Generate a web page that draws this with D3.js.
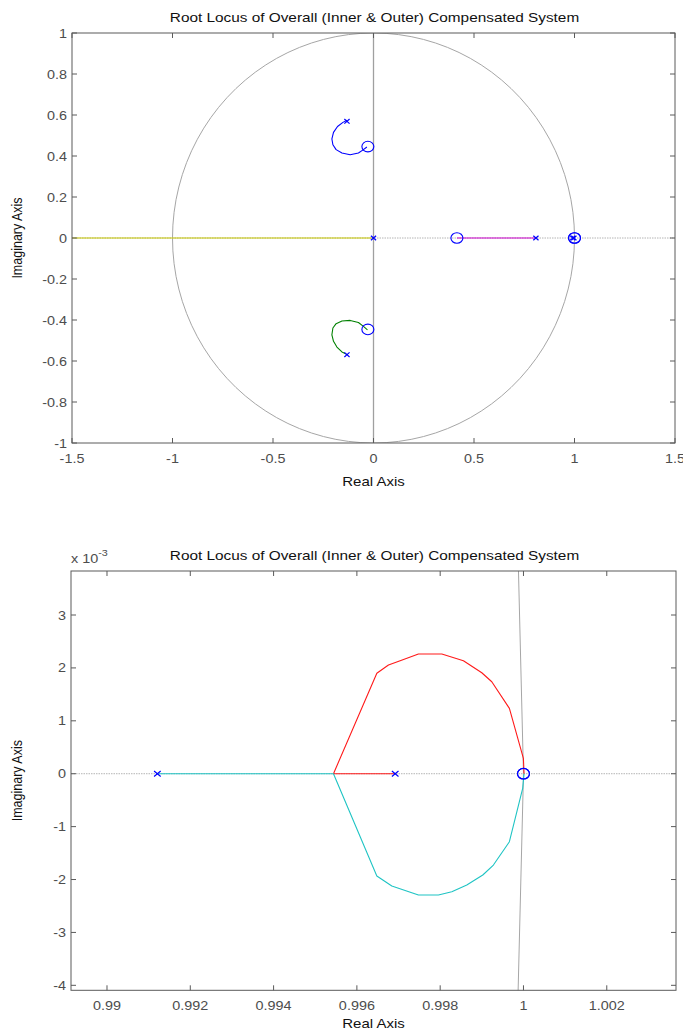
<!DOCTYPE html>
<html><head><meta charset="utf-8">
<script src="https://cdn.jsdelivr.net/npm/d3@7"></script>
<style>
body{margin:0;background:#fff}
svg{display:block}
text{font-family:"Liberation Sans",Arial,Helvetica,sans-serif}
</style>
</head><body>
<svg id="c" width="683" height="1034"></svg>
<script>
// ---------------- DATA ----------------
const chartTitle = "Root Locus of Overall (Inner & Outer) Compensated System";
const xAxisLabel = "Real Axis";
const yAxisLabel = "Imaginary Axis";

// open-loop poles (real, imag)
const poles = [[0, 0], [0.808, 0], [-0.132, 0.569], [-0.132, -0.569], [0.99121, 0], [0.99692, 0]];
// open-loop zeros (real, imag)
const zeros = [[0.415, 0], [-0.028, 0.446], [-0.028, -0.446], [1.0, 0], [1.0, 0]];

// locus branches (real, imag)
const locusYellow = [[0, 0], [-5, 0]];
const locusMagenta = [[0.808, 0], [0.415, 0]];
const locusBlue = [[-0.132, 0.574], [-0.152, 0.564], [-0.179, 0.544], [-0.199, 0.515], [-0.207, 0.483],
  [-0.202, 0.455], [-0.186, 0.431], [-0.157, 0.415], [-0.116, 0.406], [-0.075, 0.415], [-0.050, 0.431], [-0.033, 0.444]];
const locusGreen = [[-0.136, -0.566], [-0.157, -0.556], [-0.182, -0.532], [-0.199, -0.504], [-0.207, -0.472],
  [-0.202, -0.439], [-0.186, -0.418], [-0.157, -0.405], [-0.116, -0.402], [-0.075, -0.412], [-0.050, -0.431], [-0.030, -0.448]];
const locusRed = [[0.99692, 0], [0.995438, 0], [0.996479, 1.898e-3], [0.996758, 2.055e-3], [0.997039, 2.136e-3],
  [0.997478, 2.263e-3], [0.998039, 2.263e-3], [0.998558, 2.136e-3], [0.998999, 1.909e-3], [0.999239, 1.739e-3],
  [0.999662, 1.236e-3], [0.999998, 0.291e-3], [1.000014, 0]];
const locusCyan = [[0.99121, 0], [0.995438, 0], [0.996479, -1.934e-3], [0.996839, -2.123e-3], [0.997478, -2.293e-3],
  [0.997958, -2.293e-3], [0.998279, -2.230e-3], [0.998639, -2.104e-3], [0.999023, -1.914e-3], [0.999278, -1.726e-3],
  [0.999662, -1.285e-3], [0.999981, -0.276e-3], [1.000014, 0]];

// tick labels
const topXTicks = [-1.5, -1, -0.5, 0, 0.5, 1, 1.5];
const topYTicks = [1, 0.8, 0.6, 0.4, 0.2, 0, -0.2, -0.4, -0.6, -0.8, -1];
const botXTicks = [0.99, 0.992, 0.994, 0.996, 0.998, 1, 1.002];
const botYTicks = [3, 2, 1, 0, -1, -2, -3, -4];   // x 10^-3
const botYExponent = "-3";

// ---------------- DRAWING ----------------
const svg = d3.select("#c");
const SX = 1.2; // horizontal stretch of the reference rendering

function label(g, x, y, s, o = {}) {
  const t = g.append("text")
    .attr("transform", `translate(${x},${y}) scale(${SX},1)` + (o.rot ? ` rotate(${o.rot})` : ""))
    .attr("text-anchor", o.anchor || "middle")
    .attr("font-size", o.size || 12)
    .attr("fill", o.fill || "#4d4d4d")
    .text(s);
  return t;
}

const colors = { yellow: "#c8c800", magenta: "#cc00cc", blue: "#0000ff", green: "#008000", red: "#ff1a1a", cyan: "#1fc4c4" };

function panel(cfg, id) {
  const g = svg.append("g");
  const x = d3.scaleLinear().domain(cfg.xd).range([cfg.x0, cfg.x1]);
  const y = d3.scaleLinear().domain(cfg.yd).range([cfg.y1, cfg.y0]);
  const clipId = "clip" + id;
  g.append("clipPath").attr("id", clipId).append("rect")
    .attr("x", cfg.x0).attr("y", cfg.y0).attr("width", cfg.x1 - cfg.x0).attr("height", cfg.y1 - cfg.y0);
  const plot = g.append("g").attr("clip-path", `url(#${clipId})`);
  const line = d3.line().x(d => x(d[0])).y(d => y(d[1]));

  // unit circle (reference)
  const circ = d3.range(101).map(i => [Math.cos(2 * Math.PI * i / 100), Math.sin(2 * Math.PI * i / 100)]);
  plot.append("path").attr("d", line(circ)).attr("fill", "none").attr("stroke", "#a6a6a6").attr("stroke-width", 1);
  // imaginary axis
  plot.append("path").attr("d", line([[0, -1], [0, 1]])).attr("fill", "none").attr("stroke", "#a0a0a0").attr("stroke-width", 1.3);
  // real axis (dotted)
  plot.append("path").attr("d", line([[cfg.xd[0], 0], [cfg.xd[1], 0]])).attr("fill", "none")
    .attr("stroke", "#b4b4b4").attr("stroke-width", 1).attr("stroke-dasharray", "1.5,1");

  const branches = [[locusYellow, colors.yellow], [locusMagenta, colors.magenta], [locusBlue, colors.blue],
    [locusGreen, colors.green], [locusRed, colors.red], [locusCyan, colors.cyan]];
  branches.forEach(([d, c]) => plot.append("path").attr("d", line(d)).attr("fill", "none")
    .attr("stroke", c).attr("stroke-width", 1.1).attr("stroke-linejoin", "round"));

  // zeros
  plot.selectAll(null).data(zeros).join("ellipse")
    .attr("cx", d => x(d[0])).attr("cy", d => y(d[1])).attr("rx", 6).attr("ry", 5.3)
    .attr("fill", "none").attr("stroke", colors.blue).attr("stroke-width", 1.1);
  // poles
  const ph = cfg.px, pv = cfg.py;
  plot.selectAll(null).data(poles).join("path")
    .attr("d", d => { const cx = x(d[0]), cy = y(d[1]);
      return `M${cx - ph},${cy - pv}L${cx + ph},${cy + pv}M${cx - ph},${cy + pv}L${cx + ph},${cy - pv}`; })
    .attr("fill", "none").attr("stroke", colors.blue).attr("stroke-width", 1.2);

  // frame
  g.append("rect").attr("x", cfg.x0).attr("y", cfg.y0).attr("width", cfg.x1 - cfg.x0).attr("height", cfg.y1 - cfg.y0)
    .attr("fill", "none").attr("stroke", "#5a5a5a").attr("stroke-width", 1);
  // ticks (inward on all sides)
  const tl = 5;
  cfg.xt.forEach(v => {
    const px = x(v);
    g.append("path").attr("d", `M${px},${cfg.y1}V${cfg.y1 - tl}M${px},${cfg.y0}V${cfg.y0 + tl}`).attr("stroke", "#5a5a5a");
    label(g, px, cfg.y1 + 20, cfg.xfmt(v));
  });
  cfg.yt.forEach(v => {
    const py = y(v);
    g.append("path").attr("d", `M${cfg.x0},${py}H${cfg.x0 + tl}M${cfg.x1},${py}H${cfg.x1 - tl}`).attr("stroke", "#5a5a5a");
    label(g, cfg.x0 - 5, py + 4.5, cfg.yfmt(v), { anchor: "end" });
  });
  // title and axis labels
  label(g, (cfg.x0 + cfg.x1) / 2 + 1, cfg.y0 - 11, chartTitle, { size: 12.8, fill: "#111" });
  label(g, (cfg.x0 + cfg.x1) / 2, cfg.xlabY, xAxisLabel, { size: 12.5, fill: "#111" });
  g.append("text")
    .attr("transform", `translate(22,${(cfg.y0 + cfg.y1) / 2}) scale(${SX},1) rotate(-90)`)
    .attr("text-anchor", "middle").attr("font-size", 12.5).attr("fill", "#111").text(yAxisLabel);
  return g;
}

panel({ x0: 72, x1: 675, y0: 33, y1: 443, xd: [-1.5, 1.5], yd: [-1, 1], xlabY: 486,
  xt: topXTicks, yt: topYTicks, xfmt: v => String(v), yfmt: v => String(v), px: 2.6, py: 2.3 }, 1);

const g2 = panel({ x0: 71, x1: 676, y0: 571, y1: 990.3, xd: [0.989136, 1.003662], yd: [-4.094e-3, 3.832e-3], xlabY: 1028,
  xt: botXTicks, yt: botYTicks.map(v => v * 1e-3), xfmt: v => String(v), yfmt: v => String(Math.round(v * 1e3)), px: 3.3, py: 2.7 }, 2);

// exponent label
const ex = g2.append("text")
  .attr("transform", `translate(71,563) scale(${SX},1)`)
  .attr("font-size", 12).attr("fill", "#4d4d4d");
ex.append("tspan").text("x 10");
ex.append("tspan").attr("dy", -7).attr("font-size", 9).text(botYExponent);
</script>
</body></html>
